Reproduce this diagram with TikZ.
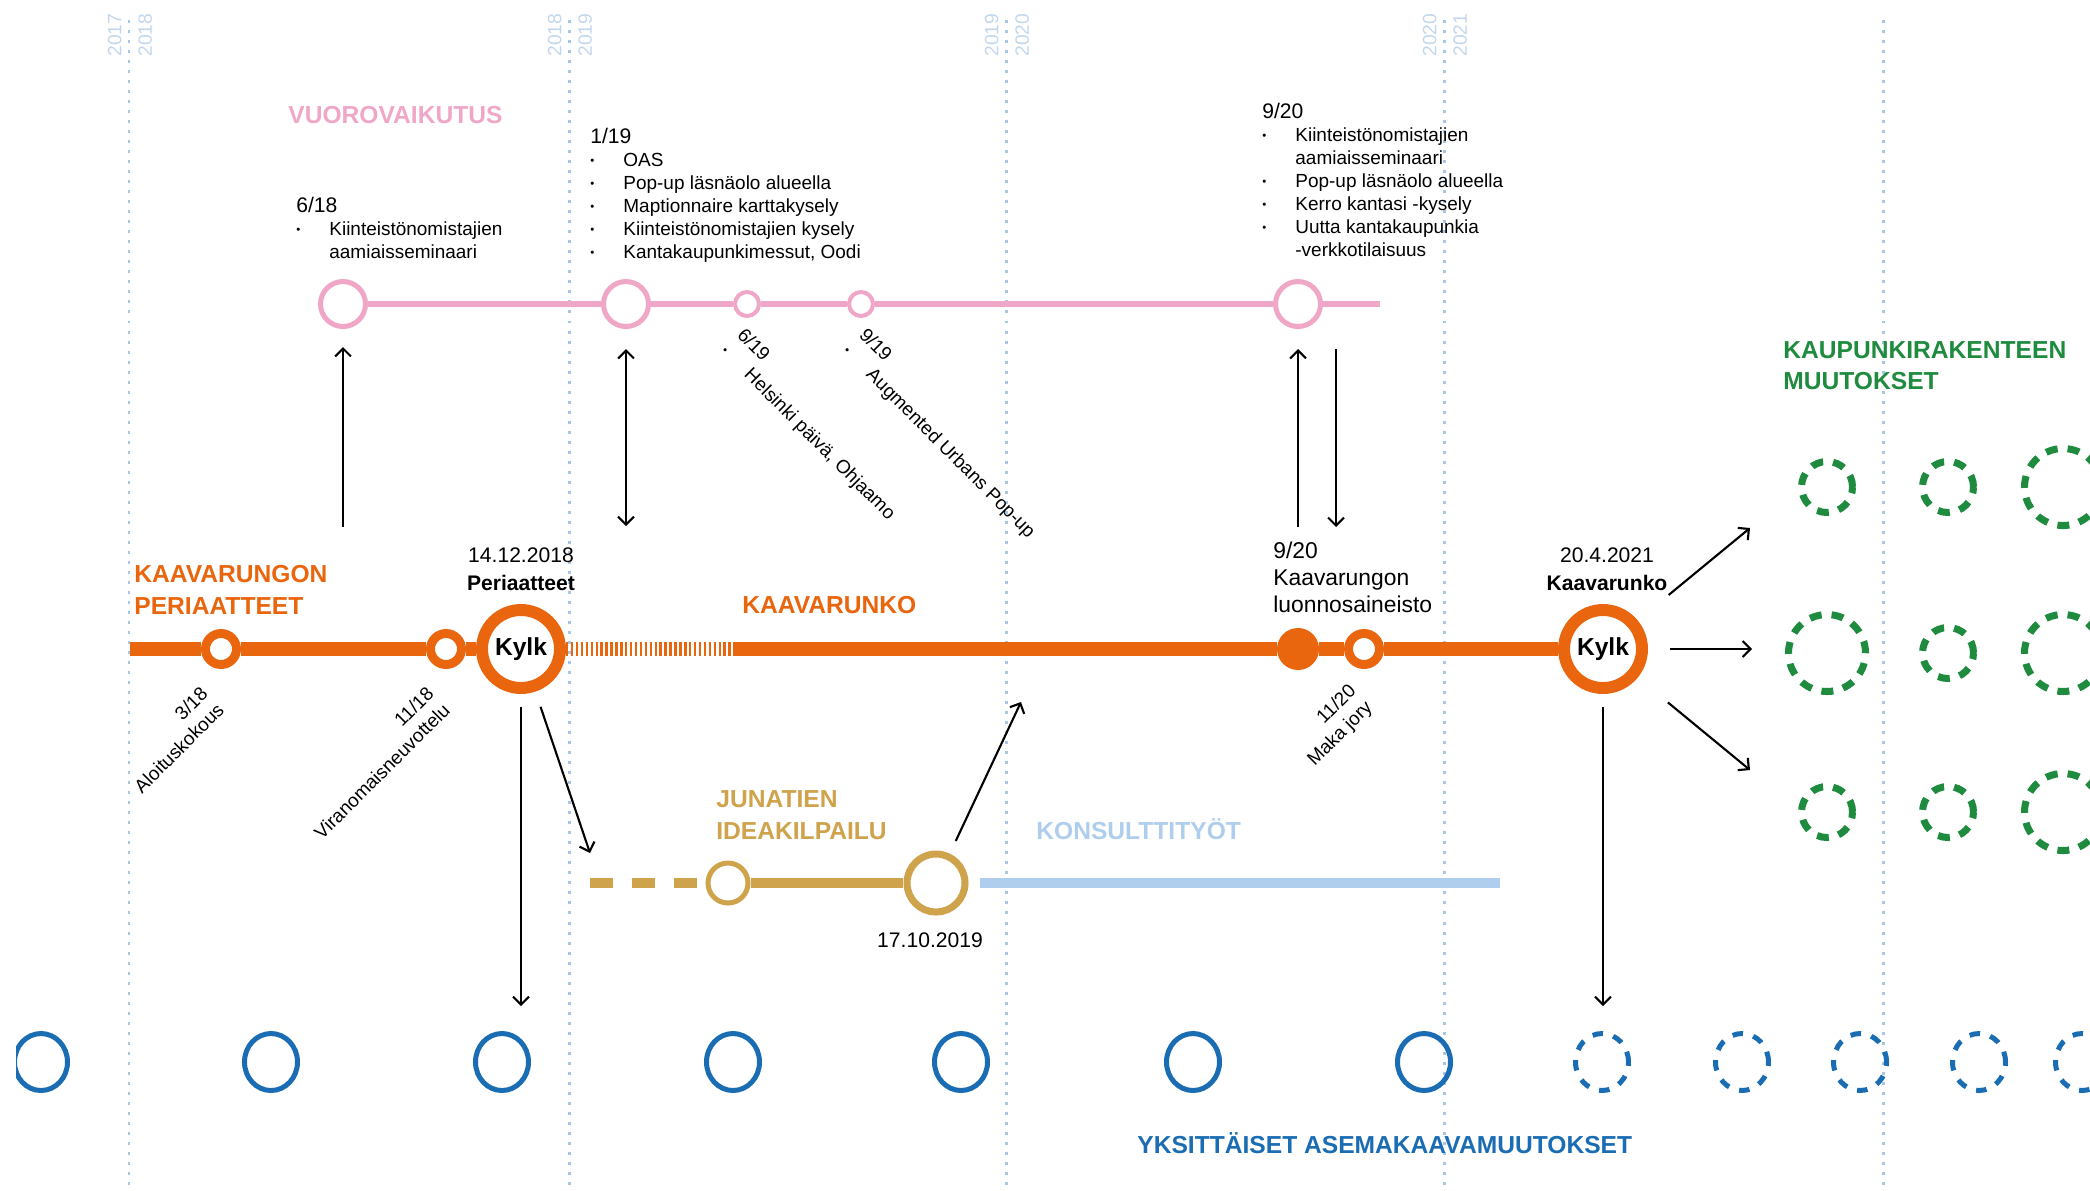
\documentclass[tikz,border=0pt]{standalone}
\usepackage{fontspec}
\setmainfont{Liberation Sans}
\usepackage{tikz}
\usetikzlibrary{shapes,arrows.meta}
\definecolor{cOr}{HTML}{E9650E}
\definecolor{cPk}{HTML}{F0A7C7}
\definecolor{cGd}{HTML}{CFA24C}
\definecolor{cKn}{HTML}{AFCDEC}
\definecolor{cBl}{HTML}{1B6DB3}
\definecolor{cGn}{HTML}{1E8B3F}
\definecolor{cYr}{HTML}{A8C7E6}
\definecolor{cYt}{HTML}{C3D7EC}
\newcommand{\hdfont}{\fontsize{14}{18.2}\selectfont\bfseries}
\newcommand{\txfont}{\fontsize{10.8}{13.1}\selectfont}
\newcommand{\dtfont}{\fontsize{12}{15.4}\selectfont}
\newcommand{\bul}{\raisebox{0.9pt}{\fontsize{6.5}{6.5}\selectfont\textbullet}}
\tikzstyle{yr}=[draw=cYr, line width=1.7pt, dash pattern=on 1.7pt off 4pt]
\tikzstyle{yrtx}=[text=cYt, font=\fontsize{11}{11}\selectfont, inner sep=0pt, rotate=90]
\tikzstyle{pkl}=[draw=cPk, line width=3.4pt]
\tikzstyle{pkb}=[circle, draw=cPk, fill=white, line width=2.85pt, minimum size=0.9cm, inner sep=0pt]
\tikzstyle{pks}=[pkb, line width=2.3pt, minimum size=0.48cm]
\tikzstyle{orl}=[draw=cOr, line width=7.7pt]
\tikzstyle{orh}=[orl, dash pattern=on 1.4pt off 1.4pt]
\tikzstyle{ors}=[circle, draw=cOr, fill=white, line width=5.1pt, minimum size=0.62cm, inner sep=0pt]
\tikzstyle{orb}=[ors, line width=6.8pt, minimum size=1.56cm, font=\fontsize{14}{14}\selectfont\bfseries]
\tikzstyle{orf}=[circle, fill=cOr, minimum size=0.84cm, inner sep=0pt]
\tikzstyle{gdl}=[draw=cGd, line width=5.7pt]
\tikzstyle{gdd}=[gdl, dash pattern=on 13.1pt off 10.8pt]
\tikzstyle{gds}=[circle, draw=cGd, fill=white, line width=2.85pt, minimum size=0.8cm, inner sep=0pt]
\tikzstyle{gdb}=[gds, line width=4pt, minimum size=1.16cm]
\tikzstyle{knl}=[draw=cKn, line width=5.7pt]
\tikzstyle{bls}=[ellipse, draw=cBl, line width=2.85pt, minimum width=1.06cm, minimum height=1.14cm, inner sep=0pt]
\tikzstyle{bld}=[bls, dash pattern=on 6pt off 6pt]
\tikzstyle{gns}=[circle, draw=cGn, line width=4pt, dash pattern=on 6.8pt off 5.7pt, minimum size=1.02cm, inner sep=0pt]
\tikzstyle{gnb}=[gns, minimum size=1.54cm]
\tikzstyle{ar}=[line width=1.2pt]
\tikzstyle{ttl}=[anchor=base west, inner sep=0pt, font=\hdfont]
\tikzstyle{blk}=[anchor=base west, inner sep=0pt, font=\txfont]
\tikzstyle{rbk}=[anchor=base east, inner sep=0pt, font=\txfont]
\tikzstyle{lbl}=[anchor=base, inner sep=0pt, font=\dtfont]

\begin{document}
\begin{tikzpicture}[x=2cm, y=-2cm, >={Straight Barb[length=4.5pt,width=9pt]}]
\useasboundingbox (0, 0) rectangle (20.9, 11.9);
\clip (0.16, 0) rectangle (20.9, 11.9);

\draw (1.29, 0.2)--(1.29, 11.9) [yr];
\draw (5.69, 0.2)--(5.69, 11.9) [yr];
\draw (10.06, 0.2)--(10.06, 11.9) [yr];
\draw (14.44, 0.2)--(14.44, 11.9) [yr];
\draw (18.83, 0.2)--(18.83, 11.9) [yr];

\draw (1.22, 0.35) node [yrtx, anchor=south] (y17) {2017};
\draw (1.38, 0.35) node [yrtx, anchor=north] (y18) {2018};
\draw (5.62, 0.35) node [yrtx, anchor=south] (y18b) {2018};
\draw (5.78, 0.35) node [yrtx, anchor=north] (y19) {2019};
\draw (9.99, 0.35) node [yrtx, anchor=south] (y19b) {2019};
\draw (10.15, 0.35) node [yrtx, anchor=north] (y20) {2020};
\draw (14.37, 0.35) node [yrtx, anchor=south] (y20b) {2020};
\draw (14.53, 0.35) node [yrtx, anchor=north] (y21) {2021};

\draw (2.88, 1.23) node [ttl, text=cPk] (tvv) {VUOROVAIKUTUS};
\draw (2.96, 2.12) node [blk] (b618) {\begin{tabular}[t]{@{}p{18.8pt}@{}l@{}}
\multicolumn{2}{@{}l@{}}{\dtfont 6/18}\\
\bul & Kiinteistönomistajien\\
 & aamiaisseminaari
\end{tabular}};
\draw (5.90, 1.43) node [blk] (b119) {\begin{tabular}[t]{@{}p{18.8pt}@{}l@{}}
\multicolumn{2}{@{}l@{}}{\dtfont 1/19}\\
\bul & OAS\\
\bul & Pop-up läsnäolo alueella\\
\bul & Maptionnaire karttakysely\\
\bul & Kiinteistönomistajien kysely\\
\bul & Kantakaupunkimessut, Oodi
\end{tabular}};
\draw (12.62, 1.18) node [blk] (b920) {\begin{tabular}[t]{@{}p{18.8pt}@{}l@{}}
\multicolumn{2}{@{}l@{}}{\dtfont 9/20}\\
\bul & Kiinteistönomistajien\\
 & aamiaisseminaari\\
\bul & Pop-up läsnäolo alueella\\
\bul & Kerro kantasi -kysely\\
\bul & Uutta kantakaupunkia\\
 & -verkkotilaisuus
\end{tabular}};

\draw (3.43, 3.04) node [pkb] (p618) {};
\draw (6.26, 3.04) node [pkb] (p119) {};
\draw (7.47, 3.04) node [pks] (p619) {};
\draw (8.61, 3.04) node [pks] (p919) {};
\draw (12.98, 3.04) node [pkb] (p920) {};
\coordinate (pend) at (13.80, 3.04);
\draw (p618)--(p119)--(p619)--(p919)--(p920)--(pend) [pkl];

\draw (7.36, 3.36) node [blk, rotate=-45] (l619) {\begin{tabular}[t]{@{}p{18.8pt}@{}l@{}}
\multicolumn{2}{@{}l@{}}{6/19}\\
\bul & Helsinki päivä, Ohjaamo
\end{tabular}};
\draw (8.58, 3.36) node [blk, rotate=-45] (l919) {\begin{tabular}[t]{@{}p{18.8pt}@{}l@{}}
\multicolumn{2}{@{}l@{}}{9/19}\\
\bul & Augmented Urbans Pop-up
\end{tabular}};

\coordinate (oleft) at (1.30, 6.49);
\draw (2.21, 6.49) node [ors] (o318) {};
\draw (4.46, 6.49) node [ors] (o1118) {};
\draw (5.21, 6.49) node [orb] (ky1) {Kylk};
\coordinate (ohat) at (7.36, 6.49);
\draw (12.98, 6.49) node [orf] (o920) {};
\draw (13.64, 6.49) node [ors] (o1120) {};
\draw (16.03, 6.49) node [orb] (ky2) {Kylk};
\draw (oleft)--(o318)--(o1118)--(ky1) [orl];
\draw (ky1)--(ohat) [orh];
\draw (ohat)--(o920)--(o1120)--(ky2) [orl];

\draw (1.34, 5.82) node [ttl, text=cOr] (tkp) {\begin{tabular}[t]{@{}l@{}}KAAVARUNGON\\PERIAATTEET\end{tabular}};
\draw (7.42, 6.13) node [ttl, text=cOr] (tkr) {KAAVARUNKO};
\draw (5.21, 5.90) node [lbl] (lky1) {\begin{tabular}[b]{@{}c@{}}14.12.2018\\\textbf{Periaatteet}\end{tabular}};
\draw (16.07, 5.90) node [lbl] (lky2) {\begin{tabular}[b]{@{}c@{}}20.4.2021\\\textbf{Kaavarunko}\end{tabular}};
\draw (12.73, 5.58) node [blk, font=\fontsize{13}{15.4}\selectfont] (l920) {\begin{tabular}[t]{@{}l@{}}9/20\\Kaavarungon\\luonnosaineisto\end{tabular}};
\draw (2.09, 6.95) node [rbk, rotate=45] (l318) {\begin{tabular}[t]{@{}r@{}}3/18\\Aloituskokous\end{tabular}};
\draw (4.35, 6.95) node [rbk, rotate=45] (l1118) {\begin{tabular}[t]{@{}r@{}}11/18\\Viranomaisneuvottelu\end{tabular}};
\draw (13.57, 6.92) node [rbk, rotate=45] (l1120) {\begin{tabular}[t]{@{}r@{}}11/20\\Maka jory\end{tabular}};

\coordinate (gstart) at (5.90, 8.83);
\draw (7.28, 8.83) node [gds] (g1) {};
\draw (9.36, 8.83) node [gdb] (g2) {};
\draw (gstart)--(g1) [gdd];
\draw (g1)--(g2) [gdl];
\draw (7.16, 8.07) node [ttl, text=cGd] (tjk) {\begin{tabular}[t]{@{}l@{}}JUNATIEN\\IDEAKILPAILU\end{tabular}};
\draw (9.30, 9.47) node [lbl] (lg2) {17.10.2019};

\coordinate (knend) at (15.00, 8.83);
\draw (g2)--(knend) [knl, shorten <=0.22cm];
\draw (10.36, 8.39) node [ttl, text=cKn] (tkn) {KONSULTTITYÖT};

\draw (0.41, 10.62) node [bls] (a1) {};
\draw (2.71, 10.62) node [bls] (a2) {};
\draw (5.02, 10.62) node [bls] (a3) {};
\draw (7.33, 10.62) node [bls] (a4) {};
\draw (9.61, 10.62) node [bls] (a5) {};
\draw (11.93, 10.62) node [bls] (a6) {};
\draw (14.24, 10.62) node [bls] (a7) {};
\draw (16.02, 10.62) node [bld] (a8) {};
\draw (17.42, 10.62) node [bld] (a9) {};
\draw (18.60, 10.62) node [bld] (a10) {};
\draw (19.79, 10.62) node [bld] (a11) {};
\draw (20.82, 10.62) node [bld] (a12) {};
\draw (11.37, 11.53) node [ttl, text=cBl] (tya) {YKSITTÄISET ASEMAKAAVAMUUTOKSET};

\draw (17.83, 3.58) node [ttl, text=cGn] (tkm) {\begin{tabular}[t]{@{}l@{}}KAUPUNKIRAKENTEEN\\MUUTOKSET\end{tabular}};
\draw (18.27, 4.87) node [gns] (k11) {};
\draw (19.48, 4.87) node [gns] (k12) {};
\draw (20.63, 4.87) node [gnb] (k13) {};
\draw (18.27, 6.53) node [gnb] (k21) {};
\draw (19.48, 6.53) node [gns] (k22) {};
\draw (20.63, 6.53) node [gnb] (k23) {};
\draw (18.27, 8.12) node [gns] (k31) {};
\draw (19.48, 8.12) node [gns] (k32) {};
\draw (20.63, 8.12) node [gnb] (k33) {};

\coordinate (c618) at (3.43, 5.27);
\coordinate (c119) at (6.26, 5.26);
\coordinate (c920u) at (12.98, 5.27);
\coordinate (c920a) at (13.36, 3.49);
\coordinate (c920b) at (13.36, 5.27);
\coordinate (k1d) at (5.21, 10.06);
\coordinate (k1g) at (5.90, 8.53);
\coordinate (g2u) at (10.21, 7.02);
\coordinate (k2d) at (16.03, 10.06);
\coordinate (k2u) at (17.50, 5.28);
\coordinate (k2m) at (17.52, 6.49);
\coordinate (k2l) at (17.50, 7.70);
\draw (c618)--(p618) [->, ar, shorten >=0.36cm];
\draw (p119)--(c119) [<->, ar, shorten <=0.4cm];
\draw (c920u)--(p920) [->, ar, shorten >=0.4cm];
\draw (c920a)--(c920b) [->, ar];
\draw (ky1)--(k1d) [->, ar, shorten <=0.26cm];
\draw (ky1)--(k1g) [->, ar, shorten <=0.32cm];
\draw (g2)--(g2u) [->, ar, shorten <=0.28cm];
\draw (ky2)--(k2d) [->, ar, shorten <=0.26cm];
\draw (ky2)--(k2u) [->, ar, shorten <=0.8cm];
\draw (ky2)--(k2m) [->, ar, shorten <=0.44cm];
\draw (ky2)--(k2l) [->, ar, shorten <=0.78cm];

\end{tikzpicture}
\end{document}
